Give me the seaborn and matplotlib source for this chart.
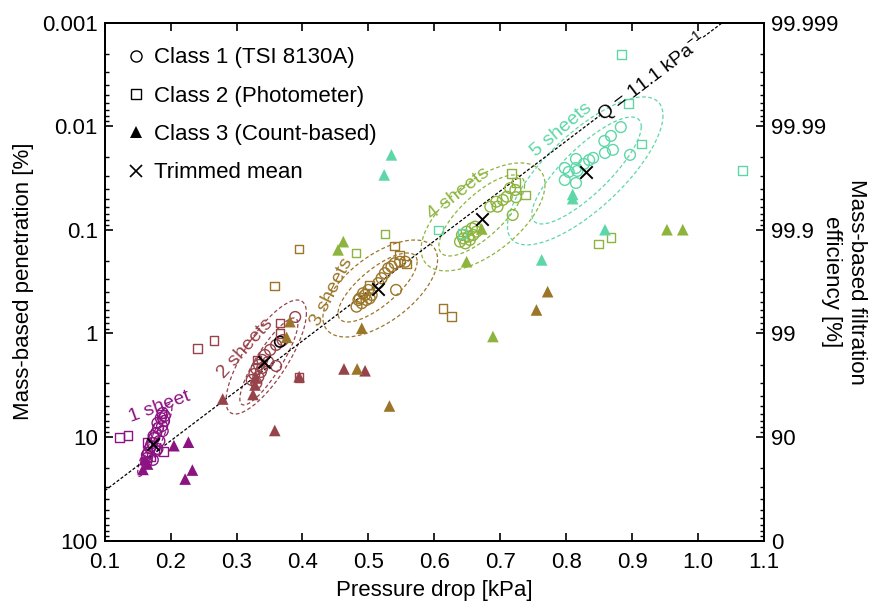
import numpy as np
import pandas as pd
import matplotlib
matplotlib.use("Agg")
import matplotlib.pyplot as plt
from matplotlib.lines import Line2D
from matplotlib.ticker import FuncFormatter, LogLocator, NullFormatter, MultipleLocator
import seaborn as sns

# ---------------- data ----------------
sheet_colors = ["#8c1382", "#96434b", "#9b7629", "#8db43e", "#5ed7a8"]
sheet_labels = ["1 sheet", "2 sheets", "3 sheets", "4 sheets", "5 sheets"]

# Class 1 (TSI 8130A): pressure drop [kPa], penetration [%], number of sheets
c1_dp = [0.188, 0.191, 0.185, 0.190, 0.180, 0.187, 0.181, 0.188, 0.178, 0.174, 0.175,
         0.183, 0.172, 0.170, 0.169, 0.178, 0.166, 0.164, 0.164, 0.173, 0.163, 0.180,
         0.389, 0.370, 0.360, 0.351, 0.343, 0.339, 0.334, 0.330, 0.337, 0.327, 0.333,
         0.339, 0.323, 0.330, 0.360, 0.348,
         0.482, 0.490, 0.497, 0.487, 0.495, 0.502, 0.492, 0.505, 0.500, 0.515, 0.520,
         0.525, 0.530, 0.535, 0.540, 0.548, 0.556, 0.542, 0.485,
         0.639, 0.647, 0.654, 0.642, 0.649, 0.657, 0.662, 0.652, 0.659, 0.644, 0.664,
         0.685, 0.694, 0.696, 0.704, 0.710, 0.715, 0.723, 0.724, 0.719,
         0.883, 0.868, 0.858, 0.871, 0.859, 0.897, 0.841, 0.835, 0.815, 0.815, 0.798,
         0.804, 0.817, 0.798, 0.815, 0.827]
c1_pen = [5.85, 6.26, 6.54, 7.0, 7.31, 7.82, 8.17, 8.73, 9.13, 9.76, 10.2,
          10.9, 11.4, 12.2, 12.7, 13.6, 14.2, 14.9, 15.9, 16.6, 17.4, 13.0,
          0.693, 1.16, 1.29, 1.44, 1.61, 1.80, 2.01, 2.20, 2.35, 2.46, 2.63,
          2.15, 2.81, 3.01, 2.06, 1.88,
          0.551, 0.510, 0.475, 0.457, 0.425, 0.457, 0.409, 0.425, 0.380, 0.327, 0.293,
          0.262, 0.235, 0.226, 0.210, 0.203, 0.203, 0.380, 0.475,
          0.130, 0.135, 0.125, 0.112, 0.104, 0.0966, 0.0931, 0.116, 0.112, 0.121, 0.104,
          0.0597, 0.0535, 0.0597, 0.0514, 0.0479, 0.0396, 0.0412, 0.0484, 0.0718,
          0.0102, 0.0124, 0.0139, 0.0169, 0.0181, 0.0189, 0.0202, 0.0212, 0.0207, 0.0253, 0.0253,
          0.0276, 0.0270, 0.0330, 0.0353, 0.0231]
c1_sheets = [1] * 22 + [2] * 16 + [3] * 19 + [4] * 20 + [5] * 16

# Class 1 reading without sheet assignment
c1_extra_dp = [0.366]
c1_extra_pen = [1.20]

# Class 2 (Photometer)
c2_dp = [0.186, 0.122, 0.135, 0.164, 0.189, 0.170,
         0.241, 0.266, 0.366, 0.366, 0.331, 0.395,
         0.540, 0.547, 0.558, 0.502, 0.613, 0.626, 0.358, 0.395,
         0.717, 0.724, 0.738, 0.849, 0.868, 0.481, 0.525,
         0.884, 0.895, 0.914, 1.068, 0.606, 0.642]
c2_pen = [6.0, 10.1, 9.7, 11.3, 13.8, 15.5,
          1.39, 1.17, 0.792, 0.995, 1.80, 2.66,
          0.143, 0.175, 0.213, 0.340, 0.577, 0.689, 0.348, 0.153,
          0.0285, 0.0350, 0.0461, 0.137, 0.119, 0.168, 0.110,
          0.00202, 0.00603, 0.0148, 0.0268, 0.100, 0.108]
c2_sheets = [1] * 6 + [2] * 6 + [3] * 8 + [4] * 7 + [5] * 6

# Class 3 (Count-based)
c3_dp = [0.205, 0.227, 0.233, 0.222, 0.158, 0.165, 0.161,
         0.279, 0.325, 0.328, 0.329, 0.395, 0.358, 0.463, 0.495,
         0.490, 0.381, 0.376, 0.483, 0.532, 0.772, 0.755,
         0.672, 0.649, 0.689, 0.953, 0.977, 0.462, 0.454,
         0.810, 0.810, 0.859, 0.763, 0.535, 0.524]
c3_pen = [12.1, 11.2, 20.8, 25.4, 20.5, 18.2, 16.5,
          4.29, 3.88, 3.14, 2.69, 2.61, 8.63, 2.20, 2.29,
          0.891, 0.769, 1.09, 2.20, 5.01, 0.395, 0.593,
          0.098, 0.203, 1.07, 0.0997, 0.0997, 0.130, 0.156,
          0.0455, 0.050, 0.0997, 0.195, 0.0189, 0.0295]
c3_sheets = [1] * 7 + [2] * 8 + [3] * 7 + [4] * 7 + [5] * 6

# Trimmed means per number of sheets
mean_dp = [0.174, 0.341, 0.515, 0.673, 0.830]
mean_pen = [11.7, 1.88, 0.374, 0.0791, 0.0274]

# Quality factor of the reference line [1/kPa]
q_factor = 11.1

# Dispersion ellipses in (pressure drop, log10 penetration) space
inner_cx = [0.176, 0.349, 0.514, 0.672, 0.831]
inner_cy = [1.028, 0.270, -0.444, -1.139, -1.573]
inner_dx = [0.018, 0.044, 0.060, 0.065, 0.083]
inner_dy = [0.27, 0.42, 0.333, 0.391, 0.516]
inner_rho = [-0.94, -0.86, -0.75, -0.75, -0.82]
outer_cx = [0.176, 0.345, 0.518, 0.674, 0.829]
outer_cy = [1.028, 0.227, -0.434, -1.125, -1.569]
outer_dx = [0.026, 0.061, 0.087, 0.094, 0.118]
outer_dy = [0.35, 0.55, 0.468, 0.521, 0.714]
outer_rho = [-0.90, -0.77, -0.60, -0.60, -0.75]

# Sheet label anchors (pressure drop, penetration) and text angle
label_dp = [0.184, 0.313, 0.444, 0.636, 0.793]
label_pen = [5.09, 1.39, 0.396, 0.0444, 0.01086]
label_rot = [20, 48, 63, 38, 40]

# ---------------- style ----------------
sns.set_theme(style="ticks")
plt.rcParams["font.family"] = ["Liberation Sans", "DejaVu Sans"]
plt.rcParams["mathtext.fontset"] = "custom"
plt.rcParams["mathtext.rm"] = "Liberation Sans"
plt.rcParams["mathtext.default"] = "regular"
plt.rcParams["text.color"] = "black"
plt.rcParams["axes.labelcolor"] = "black"
FS = 16

fig = plt.figure(figsize=(8.8, 6.11), dpi=100)
ax = fig.add_axes([0.119, 0.115, 0.749, 0.848])
ax.set_yscale("log")
ax.set_xlim(0.1, 1.1)
ax.set_ylim(100, 0.001)

palette = {i + 1: c for i, c in enumerate(sheet_colors)}

# ellipses
t = np.linspace(0, 2 * np.pi, 200)
for cxs, cys, dxs, dys, rhos in [(inner_cx, inner_cy, inner_dx, inner_dy, inner_rho),
                                 (outer_cx, outer_cy, outer_dx, outer_dy, outer_rho)]:
    for i in range(5):
        ex = cxs[i] + dxs[i] * np.cos(t)
        ey = cys[i] + dys[i] * (rhos[i] * np.cos(t) + np.sqrt(1 - rhos[i] ** 2) * np.sin(t))
        sns.lineplot(x=ex, y=10 ** ey, sort=False, estimator=None, ax=ax,
                     color=sheet_colors[i], lw=0.9, linestyle=(0, (3, 2)), zorder=1)

# quality factor line, interrupted by its label
seg1 = np.linspace(0.1, 0.851, 50)
seg2 = np.linspace(1.008, np.log(1e5) / q_factor, 10)
for seg in (seg1, seg2):
    sns.lineplot(x=seg, y=100 * np.exp(-q_factor * seg), sort=False, estimator=None,
                 ax=ax, color="black", lw=0.9, linestyle=(0, (2.5, 1.5)), zorder=2)

# Class 1 circles
df1 = pd.DataFrame({"dp": c1_dp, "pen": c1_pen, "sheets": c1_sheets})
sns.scatterplot(data=df1, x="dp", y="pen", hue="sheets", palette=palette, marker="o",
                s=60, linewidth=1.0, legend=False, ax=ax, zorder=3)
coll = ax.collections[-1]
coll.set_edgecolors(coll.get_facecolors())
coll.set_facecolors("none")
sns.scatterplot(x=c1_extra_dp, y=c1_extra_pen, marker="o", s=60, facecolor="none",
                edgecolor="black", linewidth=1.2, ax=ax, legend=False, zorder=3)

# Class 2 squares
df2 = pd.DataFrame({"dp": c2_dp, "pen": c2_pen, "sheets": c2_sheets})
sns.scatterplot(data=df2, x="dp", y="pen", hue="sheets", palette=palette, marker="s",
                s=38, linewidth=1.0, legend=False, ax=ax, zorder=3)
coll = ax.collections[-1]
coll.set_edgecolors(coll.get_facecolors())
coll.set_facecolors("none")

# Class 3 triangles
df3 = pd.DataFrame({"dp": c3_dp, "pen": c3_pen, "sheets": c3_sheets})
sns.scatterplot(data=df3, x="dp", y="pen", hue="sheets", palette=palette, marker="^",
                s=70, linewidth=0, legend=False, ax=ax, zorder=4)

# trimmed means
sns.scatterplot(x=mean_dp, y=mean_pen, marker="x", s=80, color="black", linewidth=1.4,
                ax=ax, legend=False, zorder=5)

# sheet labels
for i in range(5):
    ax.text(label_dp[i], label_pen[i], sheet_labels[i], color=sheet_colors[i],
            fontsize=14, rotation=label_rot[i], ha="center", va="center",
            rotation_mode="anchor", zorder=6)

# Q label along the line
qx = 0.929
p1 = ax.transData.transform((0.85, 100 * np.exp(-q_factor * 0.85)))
p2 = ax.transData.transform((1.0, 100 * np.exp(-q_factor * 1.0)))
ang = np.degrees(np.arctan2(p2[1] - p1[1], p2[0] - p1[0]))
ax.text(qx, 100 * np.exp(-q_factor * qx), "Q = 11.1 kPa$^{-1}$", fontsize=14,
        color="black", rotation=ang, rotation_mode="anchor", ha="center", va="center",
        zorder=6)

# axes formatting
ax.xaxis.set_major_locator(MultipleLocator(0.1))
ax.xaxis.set_major_formatter(FuncFormatter(lambda v, p: f"{v:.1f}"))
ax.yaxis.set_major_locator(LogLocator(base=10, numticks=10))
ax.yaxis.set_minor_locator(LogLocator(base=10, subs=np.arange(2, 10), numticks=20))
ax.yaxis.set_major_formatter(FuncFormatter(lambda v, p: f"{v:g}"))
ax.yaxis.set_minor_formatter(NullFormatter())
ax.tick_params(axis="both", which="major", direction="in", length=6, width=1.2,
               labelsize=FS, color="black", labelcolor="black", pad=5)
ax.tick_params(axis="x", which="major", pad=8)
ax.tick_params(axis="y", which="minor", direction="in", length=3, width=1.0, color="black")
ax.tick_params(axis="x", top=True)
ax.set_xlabel("Pressure drop [kPa]", fontsize=FS, labelpad=5, color="black")
ax.set_ylabel("Mass-based penetration [%]", fontsize=FS, labelpad=6, color="black")

ax2 = ax.twinx()
ax2.set_yscale("log")
ax2.set_ylim(100, 0.001)
ax2.yaxis.set_major_locator(LogLocator(base=10, numticks=10))
ax2.yaxis.set_minor_locator(LogLocator(base=10, subs=np.arange(2, 10), numticks=20))
ax2.yaxis.set_major_formatter(FuncFormatter(lambda v, p: f"{100 - v:.10g}"))
ax2.yaxis.set_minor_formatter(NullFormatter())
ax2.tick_params(axis="y", which="major", direction="in", length=6, width=1.2,
                labelsize=FS, color="black", labelcolor="black", pad=5)
ax2.tick_params(axis="y", which="minor", direction="in", length=3, width=1.0, color="black")
ax2.set_ylabel("Mass-based filtration\nefficiency [%]", fontsize=FS, rotation=270,
               linespacing=1.25, va="center", ha="center", color="black")
ax2.yaxis.set_label_coords(1.122, 0.5)

for a in (ax, ax2):
    for sp in a.spines.values():
        sp.set_color("black")
        sp.set_linewidth(1.4)

# legend
handles = [
    Line2D([], [], marker="o", ls="none", mfc="none", mec="black", ms=8, mew=1.0),
    Line2D([], [], marker="s", ls="none", mfc="none", mec="black", ms=6.5, mew=1.0),
    Line2D([], [], marker="^", ls="none", mfc="black", mec="black", ms=8, mew=0),
    Line2D([], [], marker="x", ls="none", color="black", ms=8, mew=1.2),
]
names = ["Class 1 (TSI 8130A)", "Class 2 (Photometer)", "Class 3 (Count-based)", "Trimmed mean"]
leg = ax.legend(handles, names, loc="upper left", bbox_to_anchor=(0.0, 0.995), frameon=False,
                fontsize=FS, handlelength=0.8, handletextpad=0.4, labelspacing=0.78,
                borderaxespad=0.6)
for txt in leg.get_texts():
    txt.set_color("black")

fig.savefig("out.png", dpi=100)
